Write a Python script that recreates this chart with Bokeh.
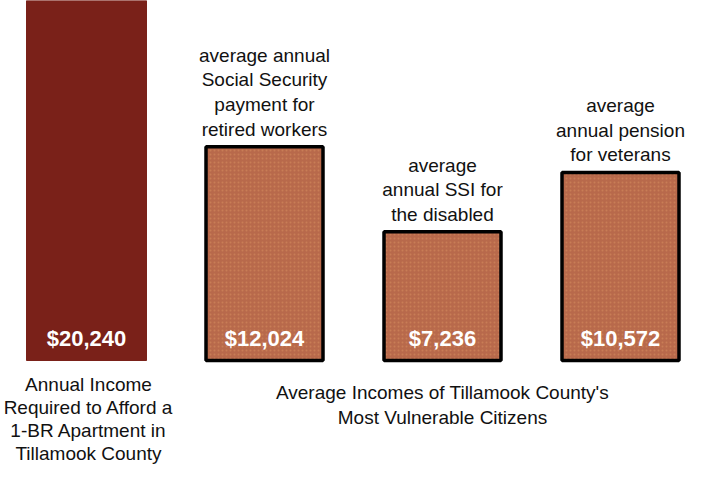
from bokeh.plotting import figure
from bokeh.models import Range1d, ColumnDataSource
from bokeh.core.properties import value
from bokeh.embed import file_html
from bokeh.resources import INLINE

# ---- data ----
positions = [1, 2, 3, 4]
incomes = [20240, 12024, 7236, 10572]
value_labels = ["$20,240", "$12,024", "$7,236", "$10,572"]
top_labels = [
    "",
    "average annual\nSocial Security\npayment for\nretired workers",
    "average\nannual SSI for\nthe disabled",
    "average\nannual pension\nfor veterans",
]
left_caption = "Annual Income\nRequired to Afford a\n1-BR Apartment in\nTillamook County"
right_caption = "Average Incomes of Tillamook County's\nMost Vulnerable Citizens"

W, H = 687, 466
px_per_unit = 178.0
x0 = 1 - 86 / px_per_unit
base_px = 360.0
val_per_px = incomes[0] / base_px
y1 = incomes[0]
y0 = y1 - H * val_per_px

FONT = "'Liberation Sans', Arial, sans-serif"
FS = "19px"

p = figure(width=W, height=H, output_backend="svg", toolbar_location=None,
           x_range=Range1d(x0, x0 + W / px_per_unit), y_range=Range1d(y0, y1),
           min_border=0, min_border_left=0, min_border_right=0,
           min_border_top=0, min_border_bottom=0)
p.axis.visible = False
p.grid.visible = False
p.outline_line_color = None
p.background_fill_color = "white"
p.border_fill_color = "white"

bw = 120 / px_per_unit
# first bar: solid dark red
p.vbar(x=positions[:1], top=incomes[:1], bottom=0, width=bw,
       fill_color="#7a2119", line_color="#7a2119", line_width=1)
# other bars: textured brown with black outline
p.vbar(x=positions[1:], top=incomes[1:], bottom=0, width=bw - 3 / px_per_unit,
       fill_color="#b8694b", line_color="black", line_width=3.5,
       hatch_pattern="dot", hatch_color="#d28a5e", hatch_alpha=0.6, hatch_scale=4)

src = ColumnDataSource(dict(x=positions, top=incomes, v=value_labels, t=top_labels))
p.text(x="x", y=0, text="v", source=src, text_color="white",
       text_font=value(FONT), text_font_style="bold", text_font_size="22px",
       text_align="center", text_baseline="alphabetic", y_offset=-22)
p.text(x="x", y="top", text="t", source=src, text_color="#111111",
       text_font=value(FONT), text_font_size=FS, text_line_height=1.17,
       text_align="center", text_baseline="bottom", y_offset=-7)

p.text(x=[1 + 2 / px_per_unit], y=[0], text=[left_caption], text_color="#111111",
       text_font=value(FONT), text_font_size=FS, text_line_height=1.1,
       text_align="center", text_baseline="top", y_offset=13)
p.text(x=[3], y=[0], text=[right_caption], text_color="#111111",
       text_font=value(FONT), text_font_size=FS, text_line_height=1.22,
       text_align="center", text_baseline="top", y_offset=21)

open("out.html", "w").write(file_html(p, INLINE))
